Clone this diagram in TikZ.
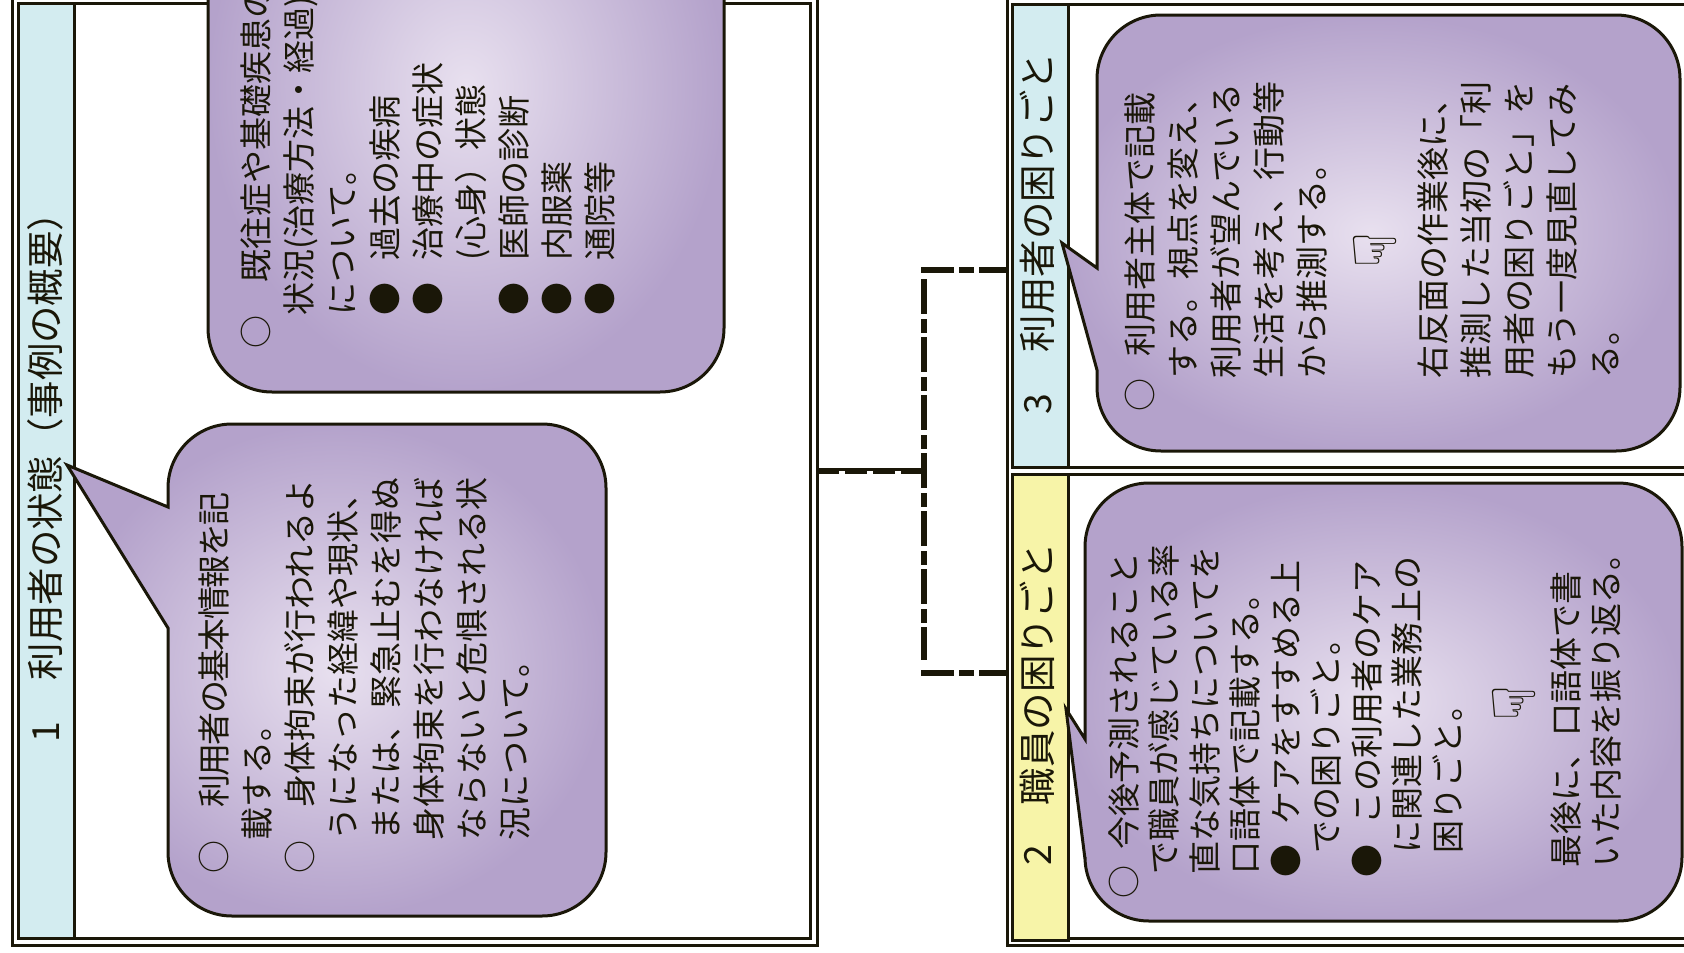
\documentclass[tikz,border=0pt]{standalone}
\usepackage{fontspec}
\setmainfont{Noto Sans CJK JP}
\newfontfamily\handfont{DejaVu Sans}
\usetikzlibrary{positioning}

\definecolor{inkline}{HTML}{1A1708}
\definecolor{headblue}{HTML}{D3ECF0}
\definecolor{headyellow}{HTML}{F7F4A8}
\definecolor{bubbleout}{HTML}{B4A2CB}
\definecolor{bubblein}{HTML}{E8E0EF}

\tikzset{
  framebox/.style={draw=inkline, line width=3pt, anchor=north west, inner sep=0pt, outer sep=0pt},
  headbox/.style={framebox, text=inkline},
  headtext/.style={rotate=90, anchor=west, inner sep=0pt, text=inkline, font=\fontsize{37.4}{37.4}\selectfont},
  bubble/.style={draw=inkline, line width=3pt, inner color=bubblein, outer color=bubbleout},
  bodytext/.style={rotate=90, anchor=north west, align=left, inner sep=0pt, text=inkline},
  bodya/.style={bodytext, font=\fontsize{33}{43}\selectfont},
  bodyd/.style={bodytext, font=\fontsize{33}{40.5}\selectfont},
  handmark/.style={rotate=90, inner sep=0pt, text=inkline, font=\handfont\fontsize{60}{60}\selectfont},
  linkline/.style={draw=inkline, line width=6.5pt, dash pattern=on 33pt off 5pt on 15pt off 5pt}
}

\begin{document}
\begin{tikzpicture}[x=1pt, y=-1pt]

  \useasboundingbox (0,0) rectangle (1684,953);

  % ==================== FRAMES ====================

  \node (frameL) [framebox, minimum width=805pt, minimum height=950pt] at (12,-5) {};
  \node (innerL) [framebox, minimum width=792pt, minimum height=935pt] at (18,3) {};
  \node (frameR) [framebox, minimum width=720pt, minimum height=950pt] at (1007,-5) {};

  \node (panel3) [framebox, minimum width=720pt, minimum height=463pt] at (1012,4) {};
  \node (panel2) [framebox, minimum width=720pt, minimum height=464pt] at (1012,474) {};

  \node (strip1) [headbox, fill=headblue, minimum width=56pt, minimum height=935pt] at (18,3) {};
  \node (strip3) [headbox, fill=headblue, minimum width=56pt, minimum height=463pt] at (1012,4) {};
  \node (strip2) [headbox, fill=headyellow, minimum width=56pt, minimum height=466pt] at (1012,474) {};

  % ==================== HEADINGS ====================

  \node (head1) [headtext] at (45,743) {1\hspace*{42pt}利用者の状態（事例の概要）};
  \node (head3) [headtext] at (1037,415) {3\hspace*{42pt}利用者の困りごと};
  \node (head2) [headtext] at (1037,866) {2\hspace*{40pt}職員の困りごと};

  % ==================== CONNECTOR ====================

  \coordinate (trunktop) at (924,270);
  \coordinate (trunkmid) at (924,471);
  \coordinate (trunkend) at (924,673);

  \draw [linkline, dash pattern=on 35pt off 5pt on 14pt off 4pt] (924,279) -- (924,660);
  \draw [linkline] ([xshift=-3pt]trunktop) -- (trunktop -| frameR.west);
  \draw [linkline] ([xshift=-3pt]trunkend) -- (trunkend -| frameR.west);
  \draw [draw=inkline, line width=3.5pt] ([yshift=1.7pt]trunkmid -| frameL.east) -- ([yshift=1.7pt]trunkmid);
  \draw [draw=inkline, line width=3.5pt, dash pattern=on 22pt off 6pt] ([yshift=-1.7pt]trunkmid -| frameL.east) -- ([yshift=-1.7pt]trunkmid);

  % ==================== CALLOUTS ====================

  % block on the left, top
  \path [bubble] (208,100) [rounded corners=64pt] -- (208,-220) -- (724,-220) -- (724,392) -- (208,392) [sharp corners] -- cycle;

  % block on the left, bottom
  \path [bubble] (67,465) -- (168,507) [rounded corners=64pt] -- (168,424) -- (606,424) -- (606,916) -- (168,916) [sharp corners] -- (168,628) -- cycle;

  % block on the right, top
  \path [bubble] (1062,243) -- (1097,268) [rounded corners=64pt] -- (1097,15) -- (1680,15) -- (1680,451) -- (1097,451) [sharp corners] -- (1097,370) -- cycle;

  % block on the right, bottom
  \path [bubble] (1066,709) -- (1085,739) [rounded corners=64pt] -- (1085,483) -- (1682,483) -- (1682,921) -- (1085,921) [sharp corners] -- (1085,859) -- cycle;

  % ==================== TEXTS ====================

  \node (textB) [bodya] at (241,349) {
    ○\hspace*{33pt}既往症や基礎疾患の\\
    　状況(治療方法・経過)\\
    　について。\\
    　●\hspace*{22pt}過去の疾病\\
    　●\hspace*{22pt}治療中の症状\\
    \hspace*{88pt}(心身）状態\\
    　●\hspace*{22pt}医師の診断\\
    　●\hspace*{22pt}内服薬\\
    　●\hspace*{22pt}通院等
  };

  \node (textA) [bodya] at (199,874) {
    ○　{\addfontfeature{LetterSpace=-5}利用者の基本情報を記}\\
    　載する。\\
    ○　身体拘束が行われるよ\\
    　うになった経緯や現状、\\
    　または、緊急止むを得ぬ\\
    　身体拘束を行わなければ\\
    　ならないと危惧される状\\
    　況について。
  };

  \node (textC) [bodya] at (1125,412) {
    ○\hspace*{22pt}利用者主体で記載\\
    　する。視点を変え、\\
    　利用者が望んでいる\\
    　生活を考え、行動等\\
    　から推測する。
  };
  \node (handC) [handmark] at (1375,250) {☟};
  \node (textC2) [bodya] at (1418,412) {
    　右反面の作業後に、\\
    　推測した当初の「利\\
    　用者の困りごと」を\\
    　もう一度見直してみ\\
    　る。
  };

  \node (textD) [bodyd] at (1108,899) {
    ○\hspace*{16pt}今後予測されること\\
    \hspace*{24pt}で職員が感じている率\\
    \hspace*{24pt}直な気持ちについてを\\
    \hspace*{24pt}口語体で記載する。\\
    \hspace*{21pt}●\hspace*{20pt}ケアをすすめる上\\
    \hspace*{45pt}での困りごと。\\
    \hspace*{21pt}●\hspace*{20pt}この利用者のケア\\
    \hspace*{45pt}に関連した業務上の\\
    \hspace*{45pt}困りごと。
  };
  \node (handD) [handmark] at (1514,703) {☟};
  \node (textD2) [bodyd] at (1550,868) {
    最後に、口語体で書\\
    いた内容を振り返る。
  };

\end{tikzpicture}
\end{document}
